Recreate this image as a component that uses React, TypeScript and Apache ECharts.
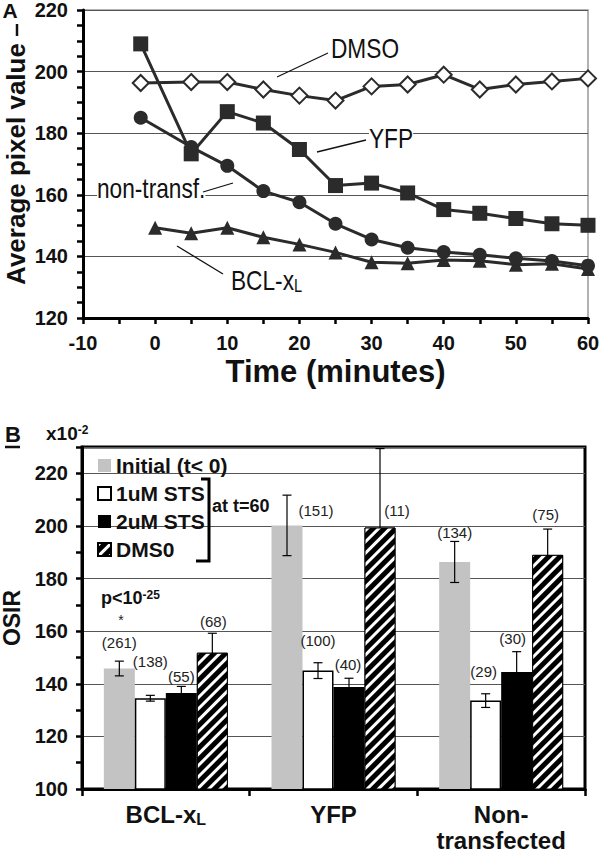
import React, { useEffect, useRef } from 'react';
import * as echarts from 'echarts';

// ---------- Panel A data ----------
const times = [-2, 5, 10, 15, 20, 25, 30, 35, 40, 45, 50, 55, 60];
const bclTimes = [0, 5, 10, 15, 20, 25, 30, 35, 40, 45, 50, 55, 60];
const dmsoA = [196.3, 196.6, 196.6, 194.2, 192.2, 190.6, 195.2, 195.8, 199, 194.2, 195.8, 196.8, 197.8];
const yfpA = [209, 173.3, 187, 183.3, 174.7, 163, 163.8, 160.6, 155.2, 154, 152.3, 150.6, 150.1];
const nonTransfA = [185, 175.5, 169.4, 161.2, 157.6, 150.6, 145.5, 142.8, 141.4, 140.5, 139.4, 138.5, 137];
const bclA = [149.3, 147.5, 149.3, 146.2, 143.9, 141.3, 138.1, 137.8, 138.8, 138.6, 137.3, 137.6, 135.9];

// ---------- Panel B data ----------
const categoriesB = ['BCL-xL', 'YFP', 'Non-transfected'];
const seriesNamesB = ['Initial (t< 0)', '1uM STS', '2uM STS', 'DMS0'];
const initialB = [145.8, 200.2, 186.3];
const initialErr = [2.8, 11.5, 7.8];
const sts1B = [134.5, 145, 133.6];
const sts1Err = [1.1, 3, 2.6];
const sts2B = [136.5, 138.8, 144.5];
const sts2Err = [2.5, 3.3, 7.7];
const dmso0B = [151.8, 199.4, 189];
const dmso0Err = [7.4, 30, 9.8];
const initialN = ['(261)', '(151)', '(134)'];
const sts1N = ['(138)', '(100)', '(29)'];
const sts2N = ['(55)', '(40)', '(30)'];
const dmso0N = ['(68)', '(11)', '(75)'];

// label offsets (pixels, relative to error-bar top) — layout only
const labelOffsets = [
  [[0, -19], [29, 15], [0, -9]],
  [[0, -34], [0, -22], [-2, -22]],
  [[0, -10], [-1, -14], [-4, -13]],
  [[1, -12], [17, 62], [-2, -15]],
];

const FONT = '"Liberation Sans", Arial, Helvetica, sans-serif';
const LINE = '#2b2b2b';
const BAR_W = 31;

export default function App() {
  const ref = useRef<HTMLDivElement>(null);
  useEffect(() => {
    const chart = echarts.init(ref.current!, null, { renderer: 'svg' });
    const valsB = [initialB, sts1B, sts2B, dmso0B];
    const errsB = [initialErr, sts1Err, sts2Err, dmso0Err];
    const nsB = [initialN, sts1N, sts2N, dmso0N];
    const errFront: number[][] = [];
    const errBack: number[][] = [];
    valsB.forEach((arr, s) =>
      arr.forEach((v, c) => (s < 2 ? errFront : errBack).push([c, v, errsB[s][c], s]))
    );

    const renderErr = (params: any, api: any) => {
      const c = api.value(0), v = api.value(1), e = api.value(2), s = api.value(3);
      const center = api.coord([c, v]);
      const x = center[0] + (s - 1.5) * BAR_W;
      const top = api.coord([c, v + e])[1];
      const bot = api.coord([c, v - e])[1];
      const cap = 4.5;
      const st = { stroke: '#000', lineWidth: 1.2 };
      const off = labelOffsets[s][c];
      return {
        type: 'group',
        children: [
          { type: 'line', shape: { x1: x, y1: top, x2: x, y2: bot }, style: st },
          { type: 'line', shape: { x1: x - cap, y1: top, x2: x + cap, y2: top }, style: st },
          { type: 'line', shape: { x1: x - cap, y1: bot, x2: x + cap, y2: bot }, style: st },
          {
            type: 'text', x: x + off[0], y: top + off[1],
            style: { text: nsB[s][c], fontFamily: FONT, fontSize: 15, fill: '#222', align: 'center', verticalAlign: 'middle' },
          },
        ],
      };
    };

    const annText = (text: string, x: number, y: number, bg = false, rich?: any) => ({
      type: 'text', x, y, scaleX: 0.81, z: 50,
      style: {
        text, fontFamily: FONT, fontSize: 28, fill: '#111', verticalAlign: 'middle', align: 'left',
        backgroundColor: bg ? '#fff' : undefined, rich,
      },
    });
    const ln = (x1: number, y1: number, x2: number, y2: number, w = 1.3) => ({
      type: 'line', z: 50, shape: { x1, y1, x2, y2 }, style: { stroke: '#111', lineWidth: w },
    });

    const option: any = {
      animation: false,
      backgroundColor: '#fff',
      textStyle: { fontFamily: FONT },
      grid: [
        { left: 83, right: 12, top: 10, height: 308, show: true, borderColor: '#999', borderWidth: 1.5, backgroundColor: 'transparent', outerBoundsMode: 'none', containLabel: false },
        { left: 82, right: 15, top: 447, bottom: 64, show: true, borderColor: '#000', borderWidth: 3, backgroundColor: 'transparent', outerBoundsMode: 'none', containLabel: false },
      ],
      legend: {
        data: seriesNamesB, orient: 'vertical', left: 92, top: 450, itemWidth: 13, itemHeight: 13, itemGap: 7,
        icon: 'rect', selectedMode: false,
        textStyle: { fontFamily: FONT, fontWeight: 'bold', fontSize: 21, color: '#111', lineHeight: 21 },
      },
      xAxis: [
        {
          type: 'value', gridIndex: 0, min: -10, max: 60, interval: 10,
          name: 'Time (minutes)', nameLocation: 'middle', nameGap: 38,
          nameTextStyle: { fontFamily: FONT, fontWeight: 'bold', fontSize: 31, color: '#111' },
          axisLine: { onZero: false, lineStyle: { color: '#000', width: 3 } },
          axisTick: { show: true, inside: false, length: 6, lineStyle: { color: '#000', width: 2.5 } },
          minorTick: { show: true, splitNumber: 2, length: 6, lineStyle: { color: '#000', width: 2.5 } },
          axisLabel: { fontFamily: FONT, fontWeight: 'bold', fontSize: 20, color: '#111', margin: 15 },
          splitLine: { show: false },
        },
        {
          type: 'category', gridIndex: 1, data: categoriesB,
          axisLine: { onZero: false, lineStyle: { color: '#000', width: 3 } },
          axisTick: { show: true, inside: false, length: 7, alignWithLabel: false, lineStyle: { color: '#000', width: 2.5 } },
          axisLabel: {
            interval: 0, margin: 12, fontFamily: FONT, fontWeight: 'bold', fontSize: 24, color: '#111', lineHeight: 26,
            formatter: (v: string) => (v === 'BCL-xL' ? 'BCL-x{sub|L}' : v === 'Non-transfected' ? 'Non-\ntransfected' : v),
            rich: { sub: { fontFamily: FONT, fontWeight: 'bold', fontSize: 16, color: '#111', verticalAlign: 'bottom', lineHeight: 10 } },
          },
          splitLine: { show: false },
        },
      ],
      yAxis: [
        {
          type: 'value', gridIndex: 0, min: 120, max: 220, interval: 20,
          name: 'Average pixel value', nameLocation: 'middle', nameGap: 54, nameMoveOverlap: false,
          nameTextStyle: { fontFamily: FONT, fontWeight: 'bold', fontSize: 26, color: '#111' },
          axisLine: { show: true, onZero: false, lineStyle: { color: '#000', width: 3 } },
          axisTick: { show: true, inside: false, length: 6, lineStyle: { color: '#000', width: 2.5 } },
          minorTick: { show: true, splitNumber: 4, length: 6, lineStyle: { color: '#000', width: 2.5 } },
          axisLabel: { fontFamily: FONT, fontWeight: 'bold', fontSize: 20, color: '#111', margin: 15 },
          splitLine: { show: true, lineStyle: { color: '#555', width: 1 } },
        },
        {
          type: 'value', gridIndex: 1, min: 100, max: 230, interval: 20,
          name: 'OSIR', nameLocation: 'middle', nameGap: 55,
          nameTextStyle: { fontFamily: FONT, fontWeight: 'bold', fontSize: 23, color: '#111' },
          axisLine: { show: true, onZero: false, lineStyle: { color: '#000', width: 3 } },
          axisTick: { show: true, inside: false, length: 6, lineStyle: { color: '#000', width: 2.5 } },
          minorTick: { show: true, splitNumber: 2, length: 6, lineStyle: { color: '#000', width: 2.5 } },
          axisLabel: {
            fontFamily: FONT, fontWeight: 'bold', fontSize: 20, color: '#111', margin: 14,
            formatter: (v: number) => (v > 220 ? '' : String(v)),
          },
          splitLine: { show: true, lineStyle: { color: '#555', width: 1 } },
        },
      ],
      series: [
        {
          name: 'DMSO', type: 'line', xAxisIndex: 0, yAxisIndex: 0, z: 3,
          data: times.map((t, i) => [t, dmsoA[i]]), symbol: 'diamond', symbolSize: 16,
          lineStyle: { color: LINE, width: 3 }, itemStyle: { color: '#fff', borderColor: LINE, borderWidth: 2 },
        },
        {
          name: 'YFP', type: 'line', xAxisIndex: 0, yAxisIndex: 0, z: 4,
          data: times.map((t, i) => [t, yfpA[i]]), symbol: 'rect', symbolSize: 15,
          lineStyle: { color: LINE, width: 3 }, itemStyle: { color: LINE },
        },
        {
          name: 'non-transf.', type: 'line', xAxisIndex: 0, yAxisIndex: 0, z: 5,
          data: times.map((t, i) => [t, nonTransfA[i]]), symbol: 'circle', symbolSize: 14,
          lineStyle: { color: LINE, width: 3 }, itemStyle: { color: LINE },
        },
        {
          name: 'BCL-xL', type: 'line', xAxisIndex: 0, yAxisIndex: 0, z: 4,
          data: bclTimes.map((t, i) => [t, bclA[i]]), symbol: 'triangle', symbolSize: 14,
          lineStyle: { color: LINE, width: 3 }, itemStyle: { color: LINE },
        },
        {
          name: 'errorsBack', type: 'custom', xAxisIndex: 1, yAxisIndex: 1, z: 1,
          data: errBack, encode: { x: 0, y: 1 }, renderItem: renderErr,
        },
        {
          name: seriesNamesB[0], type: 'bar', xAxisIndex: 1, yAxisIndex: 1, barWidth: BAR_W, barGap: '0%', z: 2,
          data: initialB, itemStyle: { color: '#c3c3c3' },
        },
        {
          name: seriesNamesB[1], type: 'bar', xAxisIndex: 1, yAxisIndex: 1, barWidth: BAR_W, barGap: '0%', z: 2,
          data: sts1B, itemStyle: { color: '#fff', borderColor: '#000', borderWidth: 1.5 },
        },
        {
          name: seriesNamesB[2], type: 'bar', xAxisIndex: 1, yAxisIndex: 1, barWidth: BAR_W, barGap: '0%', z: 2,
          data: sts2B, itemStyle: { color: '#000' },
        },
        {
          name: seriesNamesB[3], type: 'bar', xAxisIndex: 1, yAxisIndex: 1, barWidth: BAR_W, barGap: '0%', z: 2,
          data: dmso0B,
          itemStyle: {
            color: '#000', borderColor: '#000', borderWidth: 1,
            decal: { symbol: 'rect', symbolSize: 1, color: '#fff', dashArrayX: [1, 0], dashArrayY: [3, 5], rotation: -Math.PI / 4 },
          },
        },
        {
          name: 'errorsFront', type: 'custom', xAxisIndex: 1, yAxisIndex: 1, z: 10,
          data: errFront, encode: { x: 0, y: 1 }, renderItem: renderErr,
        },
      ],
      graphic: [
        { type: 'text', x: 10, y: 10, z: 50, style: { text: 'A', fontFamily: FONT, fontWeight: 'bold', fontSize: 21, fill: '#111', align: 'center', verticalAlign: 'middle' } },
        ln(17, 24, 17, 36, 2.5),
        annText('DMSO', 331, 48),
        ln(277, 77, 328, 53),
        annText('YFP', 369, 138, true),
        ln(317, 152, 366, 140),
        annText('non-transf.', 97, 188, true),
        ln(203, 192, 233, 183),
        annText('BCL-x{sub|L}', 231, 280, false, {
          sub: { fontFamily: FONT, fontSize: 18, fill: '#111', verticalAlign: 'bottom', lineHeight: 8 },
        }),
        ln(177, 246, 223, 274),
        { type: 'text', x: 5, y: 434, z: 50, style: { text: 'B', fontFamily: FONT, fontWeight: 'bold', fontSize: 22, fill: '#111', verticalAlign: 'middle' } },
        ln(5, 447, 20, 447, 2.5),
        {
          type: 'text', x: 46, y: 433, z: 50,
          style: {
            text: 'x10{sup|-2}', fontFamily: FONT, fontWeight: 'bold', fontSize: 19, fill: '#111', verticalAlign: 'middle',
            rich: { sup: { fontFamily: FONT, fontWeight: 'bold', fontSize: 12, fill: '#111', verticalAlign: 'top', lineHeight: 8 } },
          },
        },
        {
          type: 'text', x: 101, y: 598, z: 50,
          style: {
            text: 'p<10{sup|-25}', fontFamily: FONT, fontWeight: 'bold', fontSize: 18, fill: '#111', verticalAlign: 'middle',
            rich: { sup: { fontFamily: FONT, fontWeight: 'bold', fontSize: 12, fill: '#111', verticalAlign: 'top', lineHeight: 8 } },
          },
        },
        { type: 'text', x: 121, y: 620, z: 50, style: { text: '*', fontFamily: FONT, fontSize: 14, fill: '#222', align: 'center', verticalAlign: 'middle' } },
        {
          type: 'polyline', z: 50,
          shape: { points: [[201, 479], [209, 479], [209, 561], [196, 561]] },
          style: { stroke: '#000', lineWidth: 3, fill: 'none' },
        },
        { type: 'text', x: 212, y: 506, z: 50, style: { text: 'at t=60', fontFamily: FONT, fontWeight: 'bold', fontSize: 18, fill: '#111', verticalAlign: 'middle' } },
      ],
    };
    chart.setOption(option);
    return () => chart.dispose();
  }, []);
  return <div ref={ref} style={{ position: 'fixed', left: 0, top: 0, width: 600, height: 853, background: '#fff' }} />;
}
